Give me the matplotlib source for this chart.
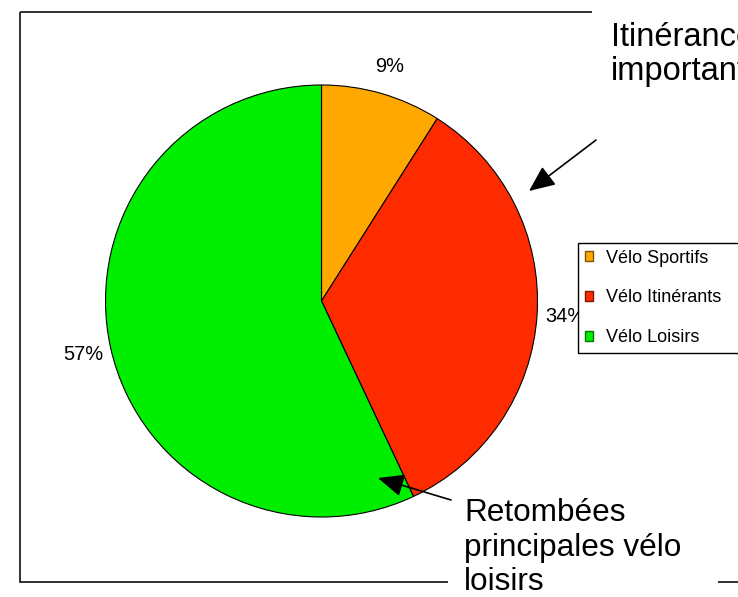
import matplotlib
matplotlib.use("Agg")
import matplotlib.pyplot as plt
from matplotlib.patches import Patch, Rectangle

plt.rcParams['font.family'] = ['Liberation Sans', 'DejaVu Sans']

# ---- data ----
categories = ['Vélo Sportifs', 'Vélo Itinérants', 'Vélo Loisirs']
shares = [9, 34, 57]
colors = ['#FFA800', '#FF2B00', '#00EE00']
edge_colors = ['#7F5400', '#7F1500', '#007700']
note_top = "Itinérance\nimportante"
note_bottom = "Retombées\nprincipales vélo\nloisirs"

W, H = 738, 597
fig = plt.figure(figsize=(W / 100, H / 100), dpi=100)
fig.patch.set_facecolor('white')

# pie axes: centre (321.5, 301) px, radius 216 px
cx, cy, r = 321.5, 301, 216
ax = fig.add_axes([(cx - r) / W, 1 - (cy + r) / H, 2 * r / W, 2 * r / H])
wedges, texts, autotexts = ax.pie(
    shares, colors=colors, startangle=90, counterclock=False,
    autopct='%1.0f%%', pctdistance=1.13, labeldistance=None,
    wedgeprops=dict(edgecolor='black', linewidth=0.8),
    textprops=dict(fontsize=14.4, color='black'))
ax.set_xlim(-1, 1)
ax.set_ylim(-1, 1)
ax.axis('off')

# overlay axes in pixel coordinates (origin top-left)
ov = fig.add_axes([0, 0, 1, 1], zorder=1)
ov.set_xlim(0, W)
ov.set_ylim(H, 0)
ov.axis('off')
ov.patch.set_visible(False)

# chart-area frame
ov.add_patch(Rectangle((20, 12), 800, 570, fill=False, edgecolor='#222222',
                       linewidth=1.3, zorder=1))
# white text boxes covering the frame
ov.add_patch(Rectangle((592, 0), 200, 110, facecolor='white', edgecolor='none', zorder=2))
ov.add_patch(Rectangle((448, 485), 270, 130, facecolor='white', edgecolor='none', zorder=2))

ov.text(611, 22.5, note_top, fontsize=23.5, ha='left', va='top', zorder=3,
        linespacing=1.1)
ov.text(464, 498, note_bottom, fontsize=22.7, ha='left', va='top', zorder=3)

arrow = dict(arrowstyle='-|>,head_length=0.8,head_width=0.35', color='black',
             linewidth=1.2, mutation_scale=20, shrinkA=0, shrinkB=0)
ov.annotate('', xy=(529, 191), xytext=(596, 140), arrowprops=arrow, zorder=4)
ov.annotate('', xy=(378, 478), xytext=(451, 500), arrowprops=arrow, zorder=4)

# legend (box stretched past the right edge like the reference)
handles = [Patch(facecolor=c, edgecolor=e, linewidth=1.0)
           for c, e in zip(colors, edge_colors)]
leg = fig.legend(handles, categories, loc='upper left', mode='expand',
                 bbox_to_anchor=(578 / W, 1 - 350 / H, 200 / W, 107.3 / H),
                 borderaxespad=0,
                 fontsize=13, frameon=True, fancybox=False, framealpha=1,
                 edgecolor='black', handlelength=0.45, handleheight=0.45,
                 handletextpad=0.7, labelspacing=1.27, borderpad=0.38)
leg.get_frame().set_linewidth(1.0)
leg.set_zorder(5)

fig.savefig('out.png', dpi=100)
